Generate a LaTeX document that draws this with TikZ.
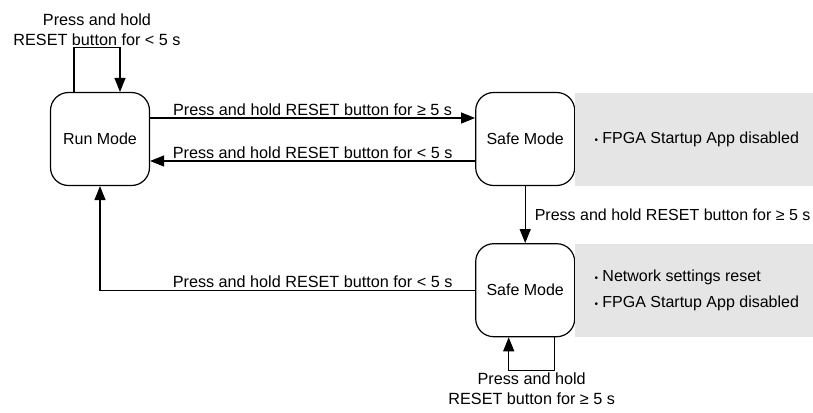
\documentclass[tikz,border=0pt]{standalone}
\usepackage{fontspec}
\setmainfont{Liberation Sans}
\usetikzlibrary{arrows.meta,positioning,calc}
\tikzset{
	%Define standard arrow tip
	>={Triangle[length=14pt,width=11pt]},
	%Define style for mode boxes
	modebox/.style={
		rectangle,
		rounded corners=18pt,
		draw=black, line width=1.2pt,
		minimum width=99pt,
		minimum height=93pt,
		inner sep=0pt,
		font=\fontsize{16pt}{19pt}\selectfont},
	%Define style for grey info bands
	infoband/.style={
		rectangle,
		fill=black!10,
		outer sep=0pt,
		minimum width=238pt,
		minimum height=93pt},
	%Define style for bullet lists
	bullets/.style={align=left, inner sep=2pt, font=\fontsize{16pt}{26pt}\selectfont},
	%Define style for transition labels
	trlabel/.style={font=\fontsize{16.2pt}{20pt}\selectfont, align=center, inner sep=2pt},
	% Define arrow style
	trans/.style={
		->,
		line width=1.2pt}
}
\newcommand{\dotitem}{{\fontsize{10pt}{10pt}\selectfont •}\ }

\begin{document}
\begin{tikzpicture}[x=1pt,y=-1pt]
	\useasboundingbox (0,0) rectangle (813,412);
	% node Run Mode
	\node[modebox] (run) at (100,139) {Run Mode};
	% node first Safe Mode
	\node[modebox, right=325pt of run] (safe1) {Safe Mode};
	% node second Safe Mode
	\node[modebox, below=57pt of safe1] (safe2) {Safe Mode};
	% grey info bands
	\node[infoband, right=0pt of safe1] (band1) {};
	\node[infoband, right=0pt of safe2] (band2) {};
	\node[bullets, right=17pt of safe1] (list1) {\dotitem FPGA Startup App disabled};
	\node[bullets, right=17pt of safe2] (list2) {\dotitem Network settings reset\\\dotitem FPGA Startup App disabled};
	% transitions
	\draw[trans] ([yshift=21pt]run.east) -- node[trlabel, above] {Press and hold RESET button for ≥ 5 s} ([yshift=21pt]safe1.west);
	\draw[trans] ([yshift=-22pt]safe1.west) -- node[trlabel, above] {Press and hold RESET button for < 5 s} ([yshift=-22pt]run.east);
	\draw[trans] (safe1.south) -- node[trlabel, right=7pt, font=\fontsize{16pt}{20pt}\selectfont] {Press and hold RESET button for ≥ 5 s} (safe2.north);
	\coordinate (corner) at (safe2.west -| run.south);
	\draw[trans] (safe2.west) -- (corner) -- (run.south);
	\node[trlabel, above] (backlabel) at ($(run.east |- safe2.west)!0.5!(safe2.west)$) {Press and hold RESET button for < 5 s};
	% self loops
	\draw[trans] ([xshift=-26pt]run.north) -- ++(0,-44) -| node[trlabel, pos=0.25, above] {Press and hold\\RESET button for < 5 s} ([xshift=20pt]run.north);
	\draw[trans] ([xshift=29.5pt]safe2.south) -- ++(0,33) -| node[trlabel, pos=0.25, below] {Press and hold\\RESET button for ≥ 5 s} ([xshift=-16.5pt]safe2.south);
\end{tikzpicture}
\end{document}
